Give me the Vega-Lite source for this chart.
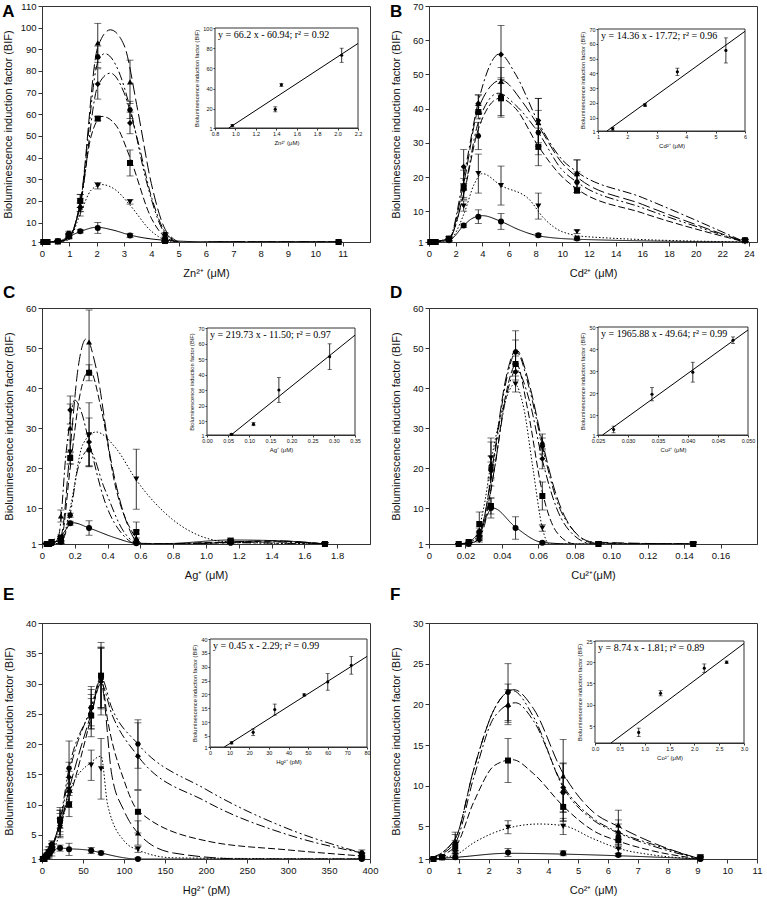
{
"$schema":"https://vega.github.io/schema/vega-lite/v6.json",
"background":"white",
"padding":{"left":1,"top":0,"right":2,"bottom":2},
"datasets":{
"pts":[
{"p":"A","s":1,"x":0.05,"y":1,"e":0.2},{"p":"A","s":1,"x":0.2,"y":1,"e":0.2},{"p":"A","s":1,"x":0.58,"y":1.3,"e":0.3},{"p":"A","s":1,"x":0.98,"y":3.5,"e":1},{"p":"A","s":1,"x":1.4,"y":6,"e":0.8},{"p":"A","s":1,"x":2.04,"y":7.5,"e":2.5},{"p":"A","s":1,"x":3.22,"y":4,"e":1},{"p":"A","s":1,"x":4.5,"y":2.5,"e":0.5},{"p":"A","s":1,"x":10.85,"y":1,"e":0.3},
{"p":"A","s":2,"x":0.05,"y":1,"e":0.2},{"p":"A","s":2,"x":0.2,"y":1,"e":0.2},{"p":"A","s":2,"x":0.58,"y":1.2,"e":0.3},{"p":"A","s":2,"x":0.98,"y":3,"e":0.5},{"p":"A","s":2,"x":1.4,"y":16,"e":3},{"p":"A","s":2,"x":2.04,"y":27,"e":1.5},{"p":"A","s":2,"x":3.22,"y":19.5,"e":1},{"p":"A","s":2,"x":4.5,"y":1.5,"e":0.3},{"p":"A","s":2,"x":10.85,"y":1,"e":0.3},
{"p":"A","s":3,"x":0.05,"y":1,"e":0.2},{"p":"A","s":3,"x":0.2,"y":1,"e":0.2},{"p":"A","s":3,"x":0.58,"y":1.3,"e":0.3},{"p":"A","s":3,"x":0.98,"y":4,"e":1},{"p":"A","s":3,"x":1.4,"y":20,"e":3},{"p":"A","s":3,"x":2.04,"y":58,"e":1},{"p":"A","s":3,"x":3.22,"y":37.5,"e":6},{"p":"A","s":3,"x":4.5,"y":1.5,"e":0.3},{"p":"A","s":3,"x":10.85,"y":1,"e":0.3},
{"p":"A","s":4,"x":0.05,"y":1,"e":0.2},{"p":"A","s":4,"x":0.2,"y":1,"e":0.2},{"p":"A","s":4,"x":0.58,"y":1.2,"e":0.3},{"p":"A","s":4,"x":0.98,"y":4,"e":1},{"p":"A","s":4,"x":1.4,"y":18,"e":3},{"p":"A","s":4,"x":2.04,"y":93,"e":9},{"p":"A","s":4,"x":3.22,"y":75,"e":10},{"p":"A","s":4,"x":4.5,"y":1.5,"e":0.3},{"p":"A","s":4,"x":10.85,"y":1,"e":0.3},
{"p":"A","s":5,"x":0.05,"y":1,"e":0.2},{"p":"A","s":5,"x":0.2,"y":1,"e":0.2},{"p":"A","s":5,"x":0.58,"y":1.2,"e":0.3},{"p":"A","s":5,"x":0.98,"y":3.5,"e":1},{"p":"A","s":5,"x":1.4,"y":17,"e":2},{"p":"A","s":5,"x":2.04,"y":74,"e":7},{"p":"A","s":5,"x":3.22,"y":56,"e":5},{"p":"A","s":5,"x":4.5,"y":1.5,"e":0.3},{"p":"A","s":5,"x":10.85,"y":1,"e":0.3},
{"p":"A","s":6,"x":0.05,"y":1,"e":0.2},{"p":"A","s":6,"x":0.2,"y":1,"e":0.2},{"p":"A","s":6,"x":0.58,"y":1.3,"e":0.3},{"p":"A","s":6,"x":0.98,"y":5,"e":1},{"p":"A","s":6,"x":1.4,"y":20,"e":3},{"p":"A","s":6,"x":2.04,"y":86.5,"e":5},{"p":"A","s":6,"x":3.22,"y":62,"e":4},{"p":"A","s":6,"x":4.5,"y":4.5,"e":0.8},{"p":"A","s":6,"x":10.85,"y":1,"e":0.3},
{"p":"B","s":1,"x":0.1,"y":1,"e":0.2},{"p":"B","s":1,"x":0.3,"y":1,"e":0.2},{"p":"B","s":1,"x":0.5,"y":1,"e":0.2},{"p":"B","s":1,"x":1.5,"y":1.5,"e":0.5},{"p":"B","s":1,"x":2.6,"y":5.8,"e":0.5},{"p":"B","s":1,"x":3.7,"y":8.4,"e":2},{"p":"B","s":1,"x":5.4,"y":7,"e":2.3},{"p":"B","s":1,"x":8.2,"y":3,"e":0.5},{"p":"B","s":1,"x":11.1,"y":2,"e":0.5},{"p":"B","s":1,"x":23.7,"y":1.5,"e":0.3},
{"p":"B","s":2,"x":0.1,"y":1,"e":0.2},{"p":"B","s":2,"x":0.3,"y":1,"e":0.2},{"p":"B","s":2,"x":0.5,"y":1,"e":0.2},{"p":"B","s":2,"x":1.5,"y":1.5,"e":0.5},{"p":"B","s":2,"x":2.6,"y":11.5,"e":1.5},{"p":"B","s":2,"x":3.7,"y":21,"e":5.7},{"p":"B","s":2,"x":5.4,"y":17.5,"e":5.7},{"p":"B","s":2,"x":8.2,"y":11.5,"e":3.8},{"p":"B","s":2,"x":11.1,"y":4,"e":0.5},{"p":"B","s":2,"x":23.7,"y":1,"e":0.3},
{"p":"B","s":3,"x":0.1,"y":1,"e":0.2},{"p":"B","s":3,"x":0.3,"y":1,"e":0.2},{"p":"B","s":3,"x":0.5,"y":1,"e":0.2},{"p":"B","s":3,"x":1.5,"y":2,"e":0.5},{"p":"B","s":3,"x":2.6,"y":17,"e":1},{"p":"B","s":3,"x":3.7,"y":39,"e":2},{"p":"B","s":3,"x":5.4,"y":43,"e":5.5},{"p":"B","s":3,"x":8.2,"y":28.8,"e":5.5},{"p":"B","s":3,"x":11.1,"y":16,"e":0.5},{"p":"B","s":3,"x":23.7,"y":1.5,"e":0.3},
{"p":"B","s":4,"x":0.1,"y":1,"e":0.2},{"p":"B","s":4,"x":0.3,"y":1,"e":0.2},{"p":"B","s":4,"x":0.5,"y":1,"e":0.2},{"p":"B","s":4,"x":1.5,"y":2,"e":0.5},{"p":"B","s":4,"x":2.6,"y":18,"e":4},{"p":"B","s":4,"x":3.7,"y":41.5,"e":2.5},{"p":"B","s":4,"x":5.4,"y":48,"e":4},{"p":"B","s":4,"x":8.2,"y":36,"e":7},{"p":"B","s":4,"x":11.1,"y":21,"e":4},{"p":"B","s":4,"x":23.7,"y":1.5,"e":0.3},
{"p":"B","s":5,"x":0.1,"y":1,"e":0.2},{"p":"B","s":5,"x":0.3,"y":1,"e":0.2},{"p":"B","s":5,"x":0.5,"y":1,"e":0.2},{"p":"B","s":5,"x":1.5,"y":2,"e":0.5},{"p":"B","s":5,"x":2.6,"y":23,"e":5},{"p":"B","s":5,"x":3.7,"y":41.5,"e":2.5},{"p":"B","s":5,"x":5.4,"y":55.8,"e":8.5},{"p":"B","s":5,"x":8.2,"y":36.5,"e":6.5},{"p":"B","s":5,"x":11.1,"y":21,"e":4},{"p":"B","s":5,"x":23.7,"y":1.5,"e":0.3},
{"p":"B","s":6,"x":0.1,"y":1,"e":0.2},{"p":"B","s":6,"x":0.3,"y":1,"e":0.2},{"p":"B","s":6,"x":0.5,"y":1,"e":0.2},{"p":"B","s":6,"x":1.5,"y":1.5,"e":0.5},{"p":"B","s":6,"x":2.6,"y":16.5,"e":3},{"p":"B","s":6,"x":3.7,"y":32,"e":4},{"p":"B","s":6,"x":5.4,"y":43.5,"e":5.5},{"p":"B","s":6,"x":8.2,"y":33,"e":6.5},{"p":"B","s":6,"x":11.1,"y":18.5,"e":3},{"p":"B","s":6,"x":23.7,"y":1.5,"e":0.3},
{"p":"C","s":1,"x":0.029,"y":1,"e":0.2},{"p":"C","s":1,"x":0.043,"y":1,"e":0.2},{"p":"C","s":1,"x":0.058,"y":1.2,"e":0.3},{"p":"C","s":1,"x":0.115,"y":1.5,"e":0.3},{"p":"C","s":1,"x":0.172,"y":6.2,"e":0.5},{"p":"C","s":1,"x":0.287,"y":5,"e":1.8},{"p":"C","s":1,"x":0.575,"y":1.2,"e":0.3},{"p":"C","s":1,"x":1.15,"y":1.5,"e":0.5},{"p":"C","s":1,"x":1.725,"y":1,"e":0.3},
{"p":"C","s":2,"x":0.029,"y":1,"e":0.2},{"p":"C","s":2,"x":0.043,"y":1,"e":0.2},{"p":"C","s":2,"x":0.058,"y":1.2,"e":0.3},{"p":"C","s":2,"x":0.115,"y":1.5,"e":0.3},{"p":"C","s":2,"x":0.172,"y":24,"e":3},{"p":"C","s":2,"x":0.287,"y":28.3,"e":8},{"p":"C","s":2,"x":0.575,"y":17.2,"e":7.5},{"p":"C","s":2,"x":1.15,"y":1.5,"e":0.5},{"p":"C","s":2,"x":1.725,"y":1,"e":0.3},
{"p":"C","s":3,"x":0.029,"y":1,"e":0.2},{"p":"C","s":3,"x":0.043,"y":1,"e":0.2},{"p":"C","s":3,"x":0.058,"y":1.5,"e":0.5},{"p":"C","s":3,"x":0.115,"y":2.5,"e":0.8},{"p":"C","s":3,"x":0.172,"y":22.5,"e":1.5},{"p":"C","s":3,"x":0.287,"y":43.8,"e":2},{"p":"C","s":3,"x":0.575,"y":4,"e":2.5},{"p":"C","s":3,"x":1.15,"y":1.8,"e":0.7},{"p":"C","s":3,"x":1.725,"y":1,"e":0.3},
{"p":"C","s":4,"x":0.029,"y":1,"e":0.2},{"p":"C","s":4,"x":0.043,"y":1,"e":0.2},{"p":"C","s":4,"x":0.058,"y":1.2,"e":0.3},{"p":"C","s":4,"x":0.115,"y":8,"e":1.5},{"p":"C","s":4,"x":0.172,"y":30,"e":6},{"p":"C","s":4,"x":0.287,"y":51.5,"e":8},{"p":"C","s":4,"x":0.575,"y":2.5,"e":2},{"p":"C","s":4,"x":1.15,"y":1.5,"e":0.5},{"p":"C","s":4,"x":1.725,"y":1,"e":0.3},
{"p":"C","s":5,"x":0.029,"y":1,"e":0.2},{"p":"C","s":5,"x":0.043,"y":1,"e":0.2},{"p":"C","s":5,"x":0.058,"y":1.2,"e":0.3},{"p":"C","s":5,"x":0.115,"y":2,"e":0.8},{"p":"C","s":5,"x":0.172,"y":34.5,"e":3.5},{"p":"C","s":5,"x":0.287,"y":26.5,"e":6},{"p":"C","s":5,"x":0.575,"y":2,"e":1.5},{"p":"C","s":5,"x":1.15,"y":1.5,"e":0.5},{"p":"C","s":5,"x":1.725,"y":1,"e":0.3},
{"p":"C","s":6,"x":0.029,"y":1,"e":0.2},{"p":"C","s":6,"x":0.043,"y":1,"e":0.2},{"p":"C","s":6,"x":0.058,"y":1.2,"e":0.3},{"p":"C","s":6,"x":0.115,"y":1.5,"e":0.3},{"p":"C","s":6,"x":0.172,"y":8.2,"e":0.5},{"p":"C","s":6,"x":0.287,"y":24.5,"e":4},{"p":"C","s":6,"x":0.575,"y":1.5,"e":1},{"p":"C","s":6,"x":1.15,"y":1.2,"e":0.3},{"p":"C","s":6,"x":1.725,"y":1,"e":0.3},
{"p":"D","s":1,"x":0.0163,"y":1,"e":0.1},{"p":"D","s":1,"x":0.0218,"y":1.2,"e":0.5},{"p":"D","s":1,"x":0.0276,"y":4,"e":1},{"p":"D","s":1,"x":0.034,"y":10,"e":2.5},{"p":"D","s":1,"x":0.0475,"y":5,"e":2.8},{"p":"D","s":1,"x":0.0622,"y":1.3,"e":0.3},{"p":"D","s":1,"x":0.093,"y":1,"e":0.3},{"p":"D","s":1,"x":0.145,"y":1,"e":0.5},
{"p":"D","s":2,"x":0.0163,"y":1,"e":0.1},{"p":"D","s":2,"x":0.0218,"y":1,"e":0.2},{"p":"D","s":2,"x":0.0276,"y":2.5,"e":0.5},{"p":"D","s":2,"x":0.034,"y":22.5,"e":5},{"p":"D","s":2,"x":0.0475,"y":41,"e":2},{"p":"D","s":2,"x":0.0622,"y":5,"e":0.8},{"p":"D","s":2,"x":0.093,"y":1,"e":0.3},{"p":"D","s":2,"x":0.145,"y":1,"e":0.3},
{"p":"D","s":3,"x":0.0163,"y":1,"e":0.1},{"p":"D","s":3,"x":0.0218,"y":1.5,"e":0.5},{"p":"D","s":3,"x":0.0276,"y":6,"e":3},{"p":"D","s":3,"x":0.034,"y":10.5,"e":2},{"p":"D","s":3,"x":0.0475,"y":46,"e":2},{"p":"D","s":3,"x":0.0622,"y":13,"e":3.5},{"p":"D","s":3,"x":0.093,"y":1,"e":0.5},{"p":"D","s":3,"x":0.145,"y":1,"e":0.5},
{"p":"D","s":4,"x":0.0163,"y":1,"e":0.1},{"p":"D","s":4,"x":0.0218,"y":1,"e":0.3},{"p":"D","s":4,"x":0.0276,"y":3,"e":0.5},{"p":"D","s":4,"x":0.034,"y":21,"e":5.5},{"p":"D","s":4,"x":0.0475,"y":49.3,"e":5},{"p":"D","s":4,"x":0.0622,"y":26.5,"e":2},{"p":"D","s":4,"x":0.093,"y":1,"e":0.5},{"p":"D","s":4,"x":0.145,"y":1,"e":0.3},
{"p":"D","s":5,"x":0.0163,"y":1,"e":0.1},{"p":"D","s":5,"x":0.0218,"y":1,"e":0.3},{"p":"D","s":5,"x":0.0276,"y":2,"e":0.5},{"p":"D","s":5,"x":0.034,"y":20,"e":3},{"p":"D","s":5,"x":0.0475,"y":44,"e":2},{"p":"D","s":5,"x":0.0622,"y":22.3,"e":2.5},{"p":"D","s":5,"x":0.093,"y":1,"e":0.3},{"p":"D","s":5,"x":0.145,"y":1,"e":0.3},
{"p":"D","s":6,"x":0.0163,"y":1,"e":0.1},{"p":"D","s":6,"x":0.0218,"y":1,"e":0.3},{"p":"D","s":6,"x":0.0276,"y":3,"e":1},{"p":"D","s":6,"x":0.034,"y":19.5,"e":2},{"p":"D","s":6,"x":0.0475,"y":49,"e":3},{"p":"D","s":6,"x":0.0622,"y":25.5,"e":2},{"p":"D","s":6,"x":0.093,"y":1,"e":0.5},{"p":"D","s":6,"x":0.145,"y":1,"e":0.5},
{"p":"E","s":1,"x":1,"y":1,"e":0.2},{"p":"E","s":1,"x":3,"y":1.2,"e":0.3},{"p":"E","s":1,"x":6,"y":1.5,"e":0.5},{"p":"E","s":1,"x":8.5,"y":2,"e":1},{"p":"E","s":1,"x":12,"y":2.5,"e":0.5},{"p":"E","s":1,"x":22,"y":2.8,"e":0.5},{"p":"E","s":1,"x":33,"y":2.6,"e":1},{"p":"E","s":1,"x":60,"y":2.4,"e":0.5},{"p":"E","s":1,"x":72,"y":2,"e":0.3},{"p":"E","s":1,"x":117,"y":1,"e":0.2},{"p":"E","s":1,"x":390,"y":1,"e":0.2},
{"p":"E","s":2,"x":1,"y":1,"e":0.2},{"p":"E","s":2,"x":3,"y":1,"e":0.2},{"p":"E","s":2,"x":6,"y":1.2,"e":0.3},{"p":"E","s":2,"x":8.5,"y":1.5,"e":0.3},{"p":"E","s":2,"x":12,"y":2,"e":0.5},{"p":"E","s":2,"x":22,"y":6.2,"e":1.5},{"p":"E","s":2,"x":33,"y":12.5,"e":2},{"p":"E","s":2,"x":60,"y":16.5,"e":2.5},{"p":"E","s":2,"x":72,"y":15.9,"e":5},{"p":"E","s":2,"x":117,"y":2.6,"e":0.5},{"p":"E","s":2,"x":390,"y":1,"e":0.3},
{"p":"E","s":3,"x":1,"y":1,"e":0.2},{"p":"E","s":3,"x":3,"y":1,"e":0.2},{"p":"E","s":3,"x":6,"y":1.5,"e":0.3},{"p":"E","s":3,"x":8.5,"y":2,"e":0.5},{"p":"E","s":3,"x":12,"y":3,"e":0.5},{"p":"E","s":3,"x":22,"y":7.5,"e":2},{"p":"E","s":3,"x":33,"y":10,"e":2},{"p":"E","s":3,"x":60,"y":24.7,"e":3.5},{"p":"E","s":3,"x":72,"y":31.3,"e":5.5},{"p":"E","s":3,"x":117,"y":8.8,"e":3.5},{"p":"E","s":3,"x":390,"y":1.5,"e":0.5},
{"p":"E","s":4,"x":1,"y":1,"e":0.2},{"p":"E","s":4,"x":3,"y":1,"e":0.2},{"p":"E","s":4,"x":6,"y":1.5,"e":0.3},{"p":"E","s":4,"x":8.5,"y":2,"e":0.5},{"p":"E","s":4,"x":12,"y":3,"e":0.5},{"p":"E","s":4,"x":22,"y":6.5,"e":2},{"p":"E","s":4,"x":33,"y":12.5,"e":3},{"p":"E","s":4,"x":60,"y":25,"e":2.5},{"p":"E","s":4,"x":72,"y":31,"e":5},{"p":"E","s":4,"x":117,"y":5.3,"e":2},{"p":"E","s":4,"x":390,"y":1.2,"e":0.3},
{"p":"E","s":5,"x":1,"y":1,"e":0.2},{"p":"E","s":5,"x":3,"y":1.5,"e":0.3},{"p":"E","s":5,"x":6,"y":2,"e":0.5},{"p":"E","s":5,"x":8.5,"y":2.5,"e":0.5},{"p":"E","s":5,"x":12,"y":3,"e":0.5},{"p":"E","s":5,"x":22,"y":7.6,"e":1.5},{"p":"E","s":5,"x":33,"y":14.5,"e":2.5},{"p":"E","s":5,"x":60,"y":26,"e":3},{"p":"E","s":5,"x":72,"y":30.3,"e":5.5},{"p":"E","s":5,"x":117,"y":18,"e":5.5},{"p":"E","s":5,"x":390,"y":1.5,"e":0.5},
{"p":"E","s":6,"x":1,"y":1,"e":0.2},{"p":"E","s":6,"x":3,"y":1.2,"e":0.3},{"p":"E","s":6,"x":6,"y":1.5,"e":0.3},{"p":"E","s":6,"x":8.5,"y":2,"e":0.5},{"p":"E","s":6,"x":12,"y":3.5,"e":0.5},{"p":"E","s":6,"x":22,"y":7,"e":2},{"p":"E","s":6,"x":33,"y":16,"e":4.5},{"p":"E","s":6,"x":60,"y":26,"e":3.5},{"p":"E","s":6,"x":72,"y":31,"e":5},{"p":"E","s":6,"x":117,"y":20,"e":4},{"p":"E","s":6,"x":390,"y":2,"e":0.5},
{"p":"F","s":1,"x":0.15,"y":1,"e":0.1},{"p":"F","s":1,"x":0.44,"y":1.2,"e":0.2},{"p":"F","s":1,"x":0.88,"y":1.2,"e":0.3},{"p":"F","s":1,"x":2.65,"y":1.8,"e":0.5},{"p":"F","s":1,"x":4.5,"y":1.7,"e":0.3},{"p":"F","s":1,"x":6.35,"y":1.5,"e":0.2},{"p":"F","s":1,"x":9.1,"y":1,"e":0.2},
{"p":"F","s":2,"x":0.15,"y":1,"e":0.1},{"p":"F","s":2,"x":0.44,"y":1.2,"e":0.2},{"p":"F","s":2,"x":0.88,"y":1.5,"e":0.5},{"p":"F","s":2,"x":2.65,"y":4.9,"e":0.8},{"p":"F","s":2,"x":4.5,"y":5,"e":1},{"p":"F","s":2,"x":6.35,"y":2.2,"e":0.5},{"p":"F","s":2,"x":9.1,"y":1,"e":0.2},
{"p":"F","s":3,"x":0.15,"y":1,"e":0.1},{"p":"F","s":3,"x":0.44,"y":1.2,"e":0.2},{"p":"F","s":3,"x":0.88,"y":2.5,"e":0.8},{"p":"F","s":3,"x":2.65,"y":13.1,"e":2.7},{"p":"F","s":3,"x":4.5,"y":7.4,"e":1.8},{"p":"F","s":3,"x":6.35,"y":3.3,"e":0.8},{"p":"F","s":3,"x":9.1,"y":1.2,"e":0.3},
{"p":"F","s":4,"x":0.15,"y":1,"e":0.1},{"p":"F","s":4,"x":0.44,"y":1.2,"e":0.2},{"p":"F","s":4,"x":0.88,"y":3,"e":1.3},{"p":"F","s":4,"x":2.65,"y":20,"e":2.5},{"p":"F","s":4,"x":4.5,"y":11.2,"e":4.5},{"p":"F","s":4,"x":6.35,"y":5.2,"e":1.8},{"p":"F","s":4,"x":9.1,"y":1.2,"e":0.3},
{"p":"F","s":5,"x":0.15,"y":1,"e":0.1},{"p":"F","s":5,"x":0.44,"y":1.2,"e":0.2},{"p":"F","s":5,"x":0.88,"y":2,"e":1},{"p":"F","s":5,"x":2.65,"y":19.8,"e":2},{"p":"F","s":5,"x":4.5,"y":9.8,"e":3},{"p":"F","s":5,"x":6.35,"y":4.3,"e":1.5},{"p":"F","s":5,"x":9.1,"y":1,"e":0.3},
{"p":"F","s":6,"x":0.15,"y":1,"e":0.1},{"p":"F","s":6,"x":0.44,"y":1.2,"e":0.2},{"p":"F","s":6,"x":0.88,"y":3,"e":1},{"p":"F","s":6,"x":2.65,"y":21.5,"e":3.5},{"p":"F","s":6,"x":4.5,"y":9.2,"e":3.5},{"p":"F","s":6,"x":6.35,"y":3.8,"e":1.5},{"p":"F","s":6,"x":9.1,"y":1,"e":0.3}
],
"crv":[
{"p":"A","s":1,"x":0,"y":1},{"p":"A","s":1,"x":0.58,"y":1.3},{"p":"A","s":1,"x":0.98,"y":3.5},{"p":"A","s":1,"x":1.4,"y":5.8},{"p":"A","s":1,"x":2,"y":7.8},{"p":"A","s":1,"x":2.6,"y":6.5},{"p":"A","s":1,"x":3.22,"y":4.2},{"p":"A","s":1,"x":4.5,"y":1.8},{"p":"A","s":1,"x":6,"y":1.1},{"p":"A","s":1,"x":10.85,"y":1},
{"p":"A","s":2,"x":0,"y":1},{"p":"A","s":2,"x":0.58,"y":1.1},{"p":"A","s":2,"x":0.98,"y":2},{"p":"A","s":2,"x":1.4,"y":14},{"p":"A","s":2,"x":1.8,"y":25},{"p":"A","s":2,"x":2.2,"y":27.5},{"p":"A","s":2,"x":2.7,"y":25},{"p":"A","s":2,"x":3.22,"y":18},{"p":"A","s":2,"x":4,"y":6},{"p":"A","s":2,"x":4.8,"y":1},{"p":"A","s":2,"x":6,"y":0.8},{"p":"A","s":2,"x":10.85,"y":1},
{"p":"A","s":3,"x":0,"y":1},{"p":"A","s":3,"x":0.58,"y":1.1},{"p":"A","s":3,"x":0.98,"y":3},{"p":"A","s":3,"x":1.4,"y":19},{"p":"A","s":3,"x":1.8,"y":50},{"p":"A","s":3,"x":2.2,"y":59},{"p":"A","s":3,"x":2.7,"y":55},{"p":"A","s":3,"x":3.22,"y":40},{"p":"A","s":3,"x":4,"y":12},{"p":"A","s":3,"x":4.6,"y":2.5},{"p":"A","s":3,"x":5.2,"y":0.5},{"p":"A","s":3,"x":6.5,"y":1},{"p":"A","s":3,"x":10.85,"y":1},
{"p":"A","s":4,"x":0,"y":1},{"p":"A","s":4,"x":0.58,"y":1.1},{"p":"A","s":4,"x":0.98,"y":3},{"p":"A","s":4,"x":1.4,"y":19},{"p":"A","s":4,"x":2.04,"y":91},{"p":"A","s":4,"x":2.5,"y":99},{"p":"A","s":4,"x":3,"y":92},{"p":"A","s":4,"x":3.5,"y":62},{"p":"A","s":4,"x":4,"y":28},{"p":"A","s":4,"x":4.6,"y":5},{"p":"A","s":4,"x":5.2,"y":0.5},{"p":"A","s":4,"x":6.5,"y":1},{"p":"A","s":4,"x":10.85,"y":1},
{"p":"A","s":5,"x":0,"y":1},{"p":"A","s":5,"x":0.58,"y":1.1},{"p":"A","s":5,"x":0.98,"y":3},{"p":"A","s":5,"x":1.4,"y":18},{"p":"A","s":5,"x":2.04,"y":73},{"p":"A","s":5,"x":2.5,"y":79},{"p":"A","s":5,"x":3,"y":70},{"p":"A","s":5,"x":3.5,"y":48},{"p":"A","s":5,"x":4,"y":22},{"p":"A","s":5,"x":4.6,"y":4},{"p":"A","s":5,"x":5.2,"y":0.5},{"p":"A","s":5,"x":6.5,"y":1},{"p":"A","s":5,"x":10.85,"y":1},
{"p":"A","s":6,"x":0,"y":1},{"p":"A","s":6,"x":0.58,"y":1.1},{"p":"A","s":6,"x":0.98,"y":3},{"p":"A","s":6,"x":1.4,"y":19},{"p":"A","s":6,"x":2.04,"y":84},{"p":"A","s":6,"x":2.3,"y":88},{"p":"A","s":6,"x":2.8,"y":80},{"p":"A","s":6,"x":3.22,"y":63},{"p":"A","s":6,"x":3.8,"y":30},{"p":"A","s":6,"x":4.5,"y":5},{"p":"A","s":6,"x":5.1,"y":0.5},{"p":"A","s":6,"x":6.5,"y":1},{"p":"A","s":6,"x":10.85,"y":1},
{"p":"B","s":1,"x":0,"y":1},{"p":"B","s":1,"x":1.5,"y":1.5},{"p":"B","s":1,"x":2.6,"y":5.8},{"p":"B","s":1,"x":3.2,"y":7.8},{"p":"B","s":1,"x":4,"y":8.7},{"p":"B","s":1,"x":5.4,"y":7},{"p":"B","s":1,"x":6.8,"y":4.5},{"p":"B","s":1,"x":8.2,"y":2.8},{"p":"B","s":1,"x":11.1,"y":1.8},{"p":"B","s":1,"x":23.7,"y":1},
{"p":"B","s":2,"x":0,"y":1},{"p":"B","s":2,"x":1.5,"y":1.5},{"p":"B","s":2,"x":2.6,"y":9},{"p":"B","s":2,"x":3.4,"y":18},{"p":"B","s":2,"x":4,"y":21},{"p":"B","s":2,"x":5.4,"y":17.5},{"p":"B","s":2,"x":7.5,"y":13.5},{"p":"B","s":2,"x":8.6,"y":8},{"p":"B","s":2,"x":10,"y":4},{"p":"B","s":2,"x":12,"y":2.5},{"p":"B","s":2,"x":23.7,"y":1},
{"p":"B","s":3,"x":0,"y":1},{"p":"B","s":3,"x":1.5,"y":2},{"p":"B","s":3,"x":2.6,"y":15},{"p":"B","s":3,"x":3.7,"y":34},{"p":"B","s":3,"x":5.3,"y":43},{"p":"B","s":3,"x":6.5,"y":40},{"p":"B","s":3,"x":8.2,"y":29},{"p":"B","s":3,"x":10,"y":20},{"p":"B","s":3,"x":11.1,"y":16.5},{"p":"B","s":3,"x":16,"y":9.5},{"p":"B","s":3,"x":23.7,"y":1},
{"p":"B","s":4,"x":0,"y":1},{"p":"B","s":4,"x":1.5,"y":2},{"p":"B","s":4,"x":2.6,"y":18},{"p":"B","s":4,"x":3.7,"y":40},{"p":"B","s":4,"x":5.4,"y":48.3},{"p":"B","s":4,"x":7,"y":42},{"p":"B","s":4,"x":8.2,"y":35},{"p":"B","s":4,"x":10,"y":24},{"p":"B","s":4,"x":11.1,"y":20},{"p":"B","s":4,"x":16,"y":12},{"p":"B","s":4,"x":23.7,"y":1},
{"p":"B","s":5,"x":0,"y":1},{"p":"B","s":5,"x":1.5,"y":2},{"p":"B","s":5,"x":2.6,"y":20},{"p":"B","s":5,"x":3.7,"y":42},{"p":"B","s":5,"x":5.3,"y":56},{"p":"B","s":5,"x":6.5,"y":50},{"p":"B","s":5,"x":8.2,"y":36},{"p":"B","s":5,"x":10,"y":25},{"p":"B","s":5,"x":11.1,"y":21.5},{"p":"B","s":5,"x":16,"y":14},{"p":"B","s":5,"x":23.7,"y":1},
{"p":"B","s":6,"x":0,"y":1},{"p":"B","s":6,"x":1.5,"y":2},{"p":"B","s":6,"x":2.6,"y":15},{"p":"B","s":6,"x":3.7,"y":36},{"p":"B","s":6,"x":5.2,"y":44.5},{"p":"B","s":6,"x":6.5,"y":41},{"p":"B","s":6,"x":8.2,"y":33},{"p":"B","s":6,"x":10,"y":22},{"p":"B","s":6,"x":11.1,"y":18.5},{"p":"B","s":6,"x":16,"y":11},{"p":"B","s":6,"x":23.7,"y":1},
{"p":"C","s":1,"x":0,"y":1},{"p":"C","s":1,"x":0.058,"y":1.1},{"p":"C","s":1,"x":0.115,"y":3},{"p":"C","s":1,"x":0.19,"y":6.3},{"p":"C","s":1,"x":0.287,"y":5},{"p":"C","s":1,"x":0.45,"y":2.5},{"p":"C","s":1,"x":0.575,"y":1.2},{"p":"C","s":1,"x":0.75,"y":1.1},{"p":"C","s":1,"x":1.15,"y":2},{"p":"C","s":1,"x":1.45,"y":1.8},{"p":"C","s":1,"x":1.73,"y":1},
{"p":"C","s":2,"x":0,"y":1},{"p":"C","s":2,"x":0.115,"y":1.2},{"p":"C","s":2,"x":0.172,"y":10},{"p":"C","s":2,"x":0.25,"y":26},{"p":"C","s":2,"x":0.33,"y":29},{"p":"C","s":2,"x":0.45,"y":25},{"p":"C","s":2,"x":0.575,"y":17},{"p":"C","s":2,"x":0.8,"y":7},{"p":"C","s":2,"x":1,"y":2.5},{"p":"C","s":2,"x":1.15,"y":1.5},{"p":"C","s":2,"x":1.73,"y":1},
{"p":"C","s":3,"x":0,"y":1},{"p":"C","s":3,"x":0.115,"y":2},{"p":"C","s":3,"x":0.172,"y":20},{"p":"C","s":3,"x":0.23,"y":38},{"p":"C","s":3,"x":0.29,"y":44.5},{"p":"C","s":3,"x":0.36,"y":35},{"p":"C","s":3,"x":0.45,"y":15},{"p":"C","s":3,"x":0.55,"y":4},{"p":"C","s":3,"x":0.62,"y":1},{"p":"C","s":3,"x":1.15,"y":1.5},{"p":"C","s":3,"x":1.4,"y":1.7},{"p":"C","s":3,"x":1.73,"y":1},
{"p":"C","s":4,"x":0,"y":1},{"p":"C","s":4,"x":0.115,"y":3},{"p":"C","s":4,"x":0.172,"y":25},{"p":"C","s":4,"x":0.22,"y":45},{"p":"C","s":4,"x":0.27,"y":52.3},{"p":"C","s":4,"x":0.33,"y":45},{"p":"C","s":4,"x":0.42,"y":22},{"p":"C","s":4,"x":0.52,"y":6},{"p":"C","s":4,"x":0.6,"y":1},{"p":"C","s":4,"x":0.8,"y":0.8},{"p":"C","s":4,"x":1.15,"y":1.5},{"p":"C","s":4,"x":1.4,"y":1.8},{"p":"C","s":4,"x":1.73,"y":1},
{"p":"C","s":5,"x":0,"y":1},{"p":"C","s":5,"x":0.1,"y":3},{"p":"C","s":5,"x":0.15,"y":25},{"p":"C","s":5,"x":0.2,"y":37},{"p":"C","s":5,"x":0.24,"y":34},{"p":"C","s":5,"x":0.287,"y":26.5},{"p":"C","s":5,"x":0.38,"y":12},{"p":"C","s":5,"x":0.5,"y":3},{"p":"C","s":5,"x":0.58,"y":1},{"p":"C","s":5,"x":1.15,"y":1.3},{"p":"C","s":5,"x":1.4,"y":1.5},{"p":"C","s":5,"x":1.73,"y":1},
{"p":"C","s":6,"x":0,"y":1},{"p":"C","s":6,"x":0.115,"y":1.5},{"p":"C","s":6,"x":0.172,"y":8.5},{"p":"C","s":6,"x":0.22,"y":20},{"p":"C","s":6,"x":0.287,"y":24.5},{"p":"C","s":6,"x":0.38,"y":15},{"p":"C","s":6,"x":0.5,"y":4},{"p":"C","s":6,"x":0.6,"y":1},{"p":"C","s":6,"x":1.15,"y":1.3},{"p":"C","s":6,"x":1.73,"y":1},
{"p":"D","s":1,"x":0.0163,"y":1},{"p":"D","s":1,"x":0.0218,"y":1.5},{"p":"D","s":1,"x":0.0276,"y":4},{"p":"D","s":1,"x":0.035,"y":10},{"p":"D","s":1,"x":0.0475,"y":5.2},{"p":"D","s":1,"x":0.0622,"y":1.4},{"p":"D","s":1,"x":0.08,"y":1},{"p":"D","s":1,"x":0.145,"y":1},
{"p":"D","s":2,"x":0.0163,"y":1},{"p":"D","s":2,"x":0.025,"y":2},{"p":"D","s":2,"x":0.03,"y":10},{"p":"D","s":2,"x":0.035,"y":24},{"p":"D","s":2,"x":0.042,"y":37},{"p":"D","s":2,"x":0.047,"y":41},{"p":"D","s":2,"x":0.052,"y":35},{"p":"D","s":2,"x":0.057,"y":20},{"p":"D","s":2,"x":0.0622,"y":5},{"p":"D","s":2,"x":0.066,"y":1},{"p":"D","s":2,"x":0.093,"y":1},{"p":"D","s":2,"x":0.145,"y":1},
{"p":"D","s":3,"x":0.0163,"y":1},{"p":"D","s":3,"x":0.025,"y":1.5},{"p":"D","s":3,"x":0.03,"y":6},{"p":"D","s":3,"x":0.036,"y":20},{"p":"D","s":3,"x":0.042,"y":38},{"p":"D","s":3,"x":0.048,"y":46},{"p":"D","s":3,"x":0.054,"y":35},{"p":"D","s":3,"x":0.0622,"y":14},{"p":"D","s":3,"x":0.07,"y":4},{"p":"D","s":3,"x":0.08,"y":1},{"p":"D","s":3,"x":0.093,"y":0.8},{"p":"D","s":3,"x":0.145,"y":1},
{"p":"D","s":4,"x":0.0163,"y":1},{"p":"D","s":4,"x":0.025,"y":1.5},{"p":"D","s":4,"x":0.03,"y":7},{"p":"D","s":4,"x":0.036,"y":24},{"p":"D","s":4,"x":0.042,"y":42},{"p":"D","s":4,"x":0.048,"y":49.5},{"p":"D","s":4,"x":0.055,"y":41},{"p":"D","s":4,"x":0.0622,"y":26.5},{"p":"D","s":4,"x":0.07,"y":13},{"p":"D","s":4,"x":0.08,"y":4},{"p":"D","s":4,"x":0.09,"y":1.5},{"p":"D","s":4,"x":0.145,"y":1},
{"p":"D","s":5,"x":0.0163,"y":1},{"p":"D","s":5,"x":0.025,"y":1.5},{"p":"D","s":5,"x":0.03,"y":5},{"p":"D","s":5,"x":0.036,"y":20},{"p":"D","s":5,"x":0.042,"y":37},{"p":"D","s":5,"x":0.048,"y":44.5},{"p":"D","s":5,"x":0.055,"y":37},{"p":"D","s":5,"x":0.0622,"y":22},{"p":"D","s":5,"x":0.07,"y":10},{"p":"D","s":5,"x":0.08,"y":3},{"p":"D","s":5,"x":0.09,"y":1},{"p":"D","s":5,"x":0.145,"y":1},
{"p":"D","s":6,"x":0.0163,"y":1},{"p":"D","s":6,"x":0.025,"y":1.5},{"p":"D","s":6,"x":0.03,"y":7},{"p":"D","s":6,"x":0.036,"y":23},{"p":"D","s":6,"x":0.042,"y":41},{"p":"D","s":6,"x":0.048,"y":49},{"p":"D","s":6,"x":0.055,"y":40},{"p":"D","s":6,"x":0.0622,"y":25.5},{"p":"D","s":6,"x":0.07,"y":12},{"p":"D","s":6,"x":0.08,"y":4},{"p":"D","s":6,"x":0.09,"y":1.3},{"p":"D","s":6,"x":0.145,"y":1},
{"p":"E","s":1,"x":0,"y":1},{"p":"E","s":1,"x":3,"y":1.5},{"p":"E","s":1,"x":8.5,"y":2},{"p":"E","s":1,"x":22,"y":2.8},{"p":"E","s":1,"x":33,"y":2.7},{"p":"E","s":1,"x":60,"y":2.4},{"p":"E","s":1,"x":72,"y":2},{"p":"E","s":1,"x":117,"y":1},{"p":"E","s":1,"x":390,"y":1},
{"p":"E","s":2,"x":0,"y":1},{"p":"E","s":2,"x":12,"y":2},{"p":"E","s":2,"x":22,"y":5.5},{"p":"E","s":2,"x":33,"y":12},{"p":"E","s":2,"x":60,"y":17},{"p":"E","s":2,"x":72,"y":18},{"p":"E","s":2,"x":80,"y":10},{"p":"E","s":2,"x":100,"y":4},{"p":"E","s":2,"x":117,"y":2.5},{"p":"E","s":2,"x":160,"y":1.2},{"p":"E","s":2,"x":390,"y":1},
{"p":"E","s":3,"x":0,"y":1},{"p":"E","s":3,"x":12,"y":3},{"p":"E","s":3,"x":22,"y":7},{"p":"E","s":3,"x":33,"y":11},{"p":"E","s":3,"x":60,"y":24.5},{"p":"E","s":3,"x":72,"y":31},{"p":"E","s":3,"x":80,"y":24},{"p":"E","s":3,"x":100,"y":14},{"p":"E","s":3,"x":117,"y":9},{"p":"E","s":3,"x":200,"y":4},{"p":"E","s":3,"x":300,"y":2.5},{"p":"E","s":3,"x":390,"y":1.5},
{"p":"E","s":4,"x":0,"y":1},{"p":"E","s":4,"x":12,"y":3},{"p":"E","s":4,"x":22,"y":6.5},{"p":"E","s":4,"x":33,"y":12.5},{"p":"E","s":4,"x":60,"y":25},{"p":"E","s":4,"x":72,"y":30},{"p":"E","s":4,"x":85,"y":15},{"p":"E","s":4,"x":100,"y":9},{"p":"E","s":4,"x":117,"y":5.3},{"p":"E","s":4,"x":160,"y":2},{"p":"E","s":4,"x":250,"y":1},{"p":"E","s":4,"x":390,"y":1},
{"p":"E","s":5,"x":0,"y":1},{"p":"E","s":5,"x":12,"y":3},{"p":"E","s":5,"x":22,"y":7},{"p":"E","s":5,"x":33,"y":15},{"p":"E","s":5,"x":60,"y":26},{"p":"E","s":5,"x":72,"y":30},{"p":"E","s":5,"x":85,"y":25},{"p":"E","s":5,"x":117,"y":18},{"p":"E","s":5,"x":200,"y":10.5},{"p":"E","s":5,"x":300,"y":5},{"p":"E","s":5,"x":390,"y":2},
{"p":"E","s":6,"x":0,"y":1},{"p":"E","s":6,"x":12,"y":3},{"p":"E","s":6,"x":22,"y":7.5},{"p":"E","s":6,"x":33,"y":16},{"p":"E","s":6,"x":60,"y":26},{"p":"E","s":6,"x":72,"y":31},{"p":"E","s":6,"x":85,"y":26},{"p":"E","s":6,"x":117,"y":20},{"p":"E","s":6,"x":200,"y":12.5},{"p":"E","s":6,"x":300,"y":6},{"p":"E","s":6,"x":390,"y":2},
{"p":"F","s":1,"x":0,"y":1},{"p":"F","s":1,"x":0.88,"y":1.2},{"p":"F","s":1,"x":2.65,"y":1.7},{"p":"F","s":1,"x":4.5,"y":1.6},{"p":"F","s":1,"x":6.35,"y":1.4},{"p":"F","s":1,"x":9.1,"y":1},
{"p":"F","s":2,"x":0,"y":1},{"p":"F","s":2,"x":0.88,"y":1.5},{"p":"F","s":2,"x":1.5,"y":3},{"p":"F","s":2,"x":2.65,"y":4.8},{"p":"F","s":2,"x":3.7,"y":5.3},{"p":"F","s":2,"x":4.5,"y":5.1},{"p":"F","s":2,"x":5.5,"y":3.5},{"p":"F","s":2,"x":6.35,"y":2.3},{"p":"F","s":2,"x":7.5,"y":1.5},{"p":"F","s":2,"x":9.1,"y":1},
{"p":"F","s":3,"x":0,"y":1},{"p":"F","s":3,"x":0.88,"y":2.5},{"p":"F","s":3,"x":1.5,"y":8},{"p":"F","s":3,"x":2.2,"y":12.5},{"p":"F","s":3,"x":2.8,"y":13.2},{"p":"F","s":3,"x":3.5,"y":11.5},{"p":"F","s":3,"x":4.5,"y":7.5},{"p":"F","s":3,"x":5.5,"y":4.5},{"p":"F","s":3,"x":6.35,"y":3.2},{"p":"F","s":3,"x":7.5,"y":2},{"p":"F","s":3,"x":9.1,"y":1},
{"p":"F","s":4,"x":0,"y":1},{"p":"F","s":4,"x":0.88,"y":3.5},{"p":"F","s":4,"x":1.5,"y":12},{"p":"F","s":4,"x":2.2,"y":19.5},{"p":"F","s":4,"x":2.85,"y":21.8},{"p":"F","s":4,"x":3.5,"y":19.5},{"p":"F","s":4,"x":4.5,"y":11.5},{"p":"F","s":4,"x":5.5,"y":6.8},{"p":"F","s":4,"x":6.35,"y":5},{"p":"F","s":4,"x":7.5,"y":3},{"p":"F","s":4,"x":9.1,"y":1},
{"p":"F","s":5,"x":0,"y":1},{"p":"F","s":5,"x":0.88,"y":3},{"p":"F","s":5,"x":1.5,"y":11},{"p":"F","s":5,"x":2.2,"y":18.5},{"p":"F","s":5,"x":2.9,"y":20.2},{"p":"F","s":5,"x":3.5,"y":18},{"p":"F","s":5,"x":4.5,"y":10},{"p":"F","s":5,"x":5.5,"y":6},{"p":"F","s":5,"x":6.35,"y":4.3},{"p":"F","s":5,"x":7.5,"y":2.8},{"p":"F","s":5,"x":9.1,"y":1},
{"p":"F","s":6,"x":0,"y":1},{"p":"F","s":6,"x":0.88,"y":3.5},{"p":"F","s":6,"x":1.5,"y":12},{"p":"F","s":6,"x":2.2,"y":19.5},{"p":"F","s":6,"x":2.8,"y":21.7},{"p":"F","s":6,"x":3.5,"y":18.5},{"p":"F","s":6,"x":4.5,"y":9.8},{"p":"F","s":6,"x":5.5,"y":5.8},{"p":"F","s":6,"x":6.35,"y":4.2},{"p":"F","s":6,"x":7.5,"y":2.6},{"p":"F","s":6,"x":9.1,"y":1}
],
"ins":[
{"p":"A","x":0.97,"y":3.5,"e":1},{"p":"A","x":1.39,"y":19.5,"e":2.5},{"p":"A","x":1.45,"y":43.7,"e":1.5},{"p":"A","x":2.04,"y":73,"e":7},
{"p":"B","x":1.5,"y":2.5,"e":1},{"p":"B","x":2.6,"y":18.5,"e":1},{"p":"B","x":3.7,"y":41,"e":2.5},{"p":"B","x":5.35,"y":55.5,"e":8.5},
{"p":"C","x":0.058,"y":1.5,"e":0.5},{"p":"C","x":0.11,"y":8,"e":1},{"p":"C","x":0.17,"y":30,"e":8},{"p":"C","x":0.29,"y":51.5,"e":8.3},
{"p":"D","x":0.0276,"y":3.5,"e":1.5},{"p":"D","x":0.034,"y":19.5,"e":3},{"p":"D","x":0.0408,"y":29.5,"e":4.5},{"p":"D","x":0.0475,"y":44,"e":1.5},
{"p":"E","x":11,"y":2.5,"e":0.4},{"p":"E","x":22,"y":6.3,"e":1.2},{"p":"E","x":33,"y":14.5,"e":2},{"p":"E","x":48,"y":19.8,"e":0.4},{"p":"E","x":60,"y":24.5,"e":3},{"p":"E","x":72,"y":30.5,"e":3.2},
{"p":"F","x":0.88,"y":3.5,"e":1},{"p":"F","x":1.32,"y":12.7,"e":0.6},{"p":"F","x":2.2,"y":18.6,"e":1},{"p":"F","x":2.65,"y":20,"e":0.3}
],
"reg":[
{"p":"A","x":0.9357,"y":1},{"p":"A","x":2.2,"y":84.7},
{"p":"B","x":1.3036,"y":1},{"p":"B","x":6,"y":68.44},
{"p":"C","x":0.05689,"y":1},{"p":"C","x":0.35,"y":65.4},
{"p":"D","x":0.025759,"y":1},{"p":"D","x":0.05,"y":48.65},
{"p":"E","x":7.311,"y":1},{"p":"E","x":80,"y":33.71},
{"p":"F","x":0.3215,"y":1},{"p":"F","x":3,"y":24.41}
],
"eq":[
{"p":"A","t":"y = 66.2 x - 60.94; r² = 0.92"},
{"p":"B","t":"y = 14.36 x - 17.72; r² = 0.96"},
{"p":"C","t":"y = 219.73 x - 11.50; r² = 0.97"},
{"p":"D","t":"y = 1965.88 x - 49.64; r² = 0.99"},
{"p":"E","t":"y = 0.45 x - 2.29; r² = 0.99"},
{"p":"F","t":"y = 8.74 x - 1.81; r² = 0.89"}
]
},
"vconcat":[
{"hconcat":[
{"title":{"text":"A","offset":-20},"width":328,"height":236,
"resolve":{"scale":{"x":"independent","y":"independent"},"axis":{"x":"independent","y":"independent"}},
"layer":[
{"encoding":{"x":{"field":"x","type":"quantitative","scale":{"domain":[0,12],"nice":false,"zero":false},"axis":{"values":[0,1,2,3,4,5,6,7,8,9,10,11],"title":"Zn²⁺ (μM)"}},
"y":{"field":"y","type":"quantitative","scale":{"domain":[1,110],"nice":false,"zero":false},"axis":{"values":[1,10,20,30,40,50,60,70,80,90,100,110],"title":"Bioluminescence induction factor (BIF)","minExtent":21}}},
"layer":[
{"data":{"name":"crv"},"transform":[{"filter":"datum.p=='A'"}],"mark":{"type":"line","interpolate":"monotone","clip":true},"encoding":{"strokeDash":{"field":"s","type":"nominal","scale":{"domain":[1,2,3,4,5,6],"range":[[1,0],[1.5,2],[7,3],[12,4],[9,3,2,3],[9,3,2,3,2,3]]},"legend":null}}},
{"data":{"name":"pts"},"transform":[{"filter":"datum.p=='A'"}],"mark":{"type":"errorbar","ticks":true,"size":7,"thickness":0.8,"color":"black","clip":true},"encoding":{"yError":{"field":"e"}}},
{"data":{"name":"pts"},"transform":[{"filter":"datum.p=='A'"}],"mark":{"type":"point"},"encoding":{"shape":{"field":"s","type":"nominal","scale":{"domain":[1,2,3,4,5,6],"range":["circle","triangle-down","square","triangle-up","diamond","M-1,0L-0.5,-0.866L0.5,-0.866L1,0L0.5,0.866L-0.5,0.866Z"]},"legend":null}}}
]},
{"layer":[
{"data":{"values":[{}]},"mark":{"type":"rect","fill":"white","stroke":"#333","strokeWidth":1},"encoding":{
"x":{"datum":0.8,"type":"quantitative","scale":{"domain":[0.8,2.2],"range":[173,316],"nice":false,"zero":false},"axis":{"orient":"bottom","offset":-114,"values":[0.8,1,1.2,1.4,1.6,1.8,2,2.2],"format":".1f","title":"Zn²⁺ (μM)","labelFontSize":5.5,"titleFontSize":6,"tickSize":2,"labelPadding":1,"titlePadding":3,"minExtent":0}},"x2":{"datum":2.2},
"y":{"datum":1,"type":"quantitative","scale":{"domain":[1,100],"range":[122,22],"nice":false,"zero":false},"axis":{"orient":"left","offset":-173,"values":[1,20,40,60,80,100],"format":"d","title":"Bioluminescence induction factor (BIF)","labelFontSize":5.5,"titleFontSize":5.7,"tickSize":2,"labelPadding":1,"titlePadding":3,"minExtent":0}},"y2":{"datum":100}}},
{"data":{"name":"reg"},"transform":[{"filter":"datum.p=='A'"}],"mark":{"type":"line"},"encoding":{
"x":{"field":"x","type":"quantitative","scale":{"domain":[0.8,2.2],"range":[173,316],"nice":false,"zero":false},"axis":{"orient":"bottom","offset":-114,"values":[0.8,1,1.2,1.4,1.6,1.8,2,2.2],"format":".1f","title":"Zn²⁺ (μM)","labelFontSize":5.5,"titleFontSize":6,"tickSize":2,"labelPadding":1,"titlePadding":3,"minExtent":0}},
"y":{"field":"y","type":"quantitative","scale":{"domain":[1,100],"range":[122,22],"nice":false,"zero":false},"axis":{"orient":"left","offset":-173,"values":[1,20,40,60,80,100],"format":"d","title":"Bioluminescence induction factor (BIF)","labelFontSize":5.5,"titleFontSize":5.7,"tickSize":2,"labelPadding":1,"titlePadding":3,"minExtent":0}}}},
{"data":{"name":"ins"},"transform":[{"filter":"datum.p=='A'"}],"mark":{"type":"errorbar","ticks":true,"size":4,"thickness":0.8,"color":"black"},"encoding":{
"x":{"field":"x","type":"quantitative","scale":{"domain":[0.8,2.2],"range":[173,316],"nice":false,"zero":false},"axis":{"orient":"bottom","offset":-114,"values":[0.8,1,1.2,1.4,1.6,1.8,2,2.2],"format":".1f","title":"Zn²⁺ (μM)","labelFontSize":5.5,"titleFontSize":6,"tickSize":2,"labelPadding":1,"titlePadding":3,"minExtent":0}},
"y":{"field":"y","type":"quantitative","scale":{"domain":[1,100],"range":[122,22],"nice":false,"zero":false},"axis":{"orient":"left","offset":-173,"values":[1,20,40,60,80,100],"format":"d","title":"Bioluminescence induction factor (BIF)","labelFontSize":5.5,"titleFontSize":5.7,"tickSize":2,"labelPadding":1,"titlePadding":3,"minExtent":0}},"yError":{"field":"e"}}},
{"data":{"name":"ins"},"transform":[{"filter":"datum.p=='A'"}],"mark":{"type":"point","shape":"circle","size":10},"encoding":{
"x":{"field":"x","type":"quantitative","scale":{"domain":[0.8,2.2],"range":[173,316],"nice":false,"zero":false},"axis":{"orient":"bottom","offset":-114,"values":[0.8,1,1.2,1.4,1.6,1.8,2,2.2],"format":".1f","title":"Zn²⁺ (μM)","labelFontSize":5.5,"titleFontSize":6,"tickSize":2,"labelPadding":1,"titlePadding":3,"minExtent":0}},
"y":{"field":"y","type":"quantitative","scale":{"domain":[1,100],"range":[122,22],"nice":false,"zero":false},"axis":{"orient":"left","offset":-173,"values":[1,20,40,60,80,100],"format":"d","title":"Bioluminescence induction factor (BIF)","labelFontSize":5.5,"titleFontSize":5.7,"tickSize":2,"labelPadding":1,"titlePadding":3,"minExtent":0}}}},
{"data":{"name":"eq"},"transform":[{"filter":"datum.p=='A'"}],"mark":{"type":"text","align":"left","baseline":"top","dx":3,"dy":2,"font":"Liberation Serif","fontSize":10,"fill":"black"},"encoding":{
"x":{"datum":0.8,"type":"quantitative","scale":{"domain":[0.8,2.2],"range":[173,316],"nice":false,"zero":false},"axis":{"orient":"bottom","offset":-114,"values":[0.8,1,1.2,1.4,1.6,1.8,2,2.2],"format":".1f","title":"Zn²⁺ (μM)","labelFontSize":5.5,"titleFontSize":6,"tickSize":2,"labelPadding":1,"titlePadding":3,"minExtent":0}},
"y":{"datum":100,"type":"quantitative","scale":{"domain":[1,100],"range":[122,22],"nice":false,"zero":false},"axis":{"orient":"left","offset":-173,"values":[1,20,40,60,80,100],"format":"d","title":"Bioluminescence induction factor (BIF)","labelFontSize":5.5,"titleFontSize":5.7,"tickSize":2,"labelPadding":1,"titlePadding":3,"minExtent":0}},"text":{"field":"t"}}}
]}
]},
{"title":{"text":"B","offset":-20},"width":328,"height":236,
"resolve":{"scale":{"x":"independent","y":"independent"},"axis":{"x":"independent","y":"independent"}},
"layer":[
{"encoding":{"x":{"field":"x","type":"quantitative","scale":{"domain":[0,24.6],"nice":false,"zero":false},"axis":{"values":[0,2,4,6,8,10,12,14,16,18,20,22,24],"title":"Cd²⁺ (μM)"}},
"y":{"field":"y","type":"quantitative","scale":{"domain":[1,70],"nice":false,"zero":false},"axis":{"values":[1,10,20,30,40,50,60,70],"title":"Bioluminescence induction factor (BIF)","minExtent":21}}},
"layer":[
{"data":{"name":"crv"},"transform":[{"filter":"datum.p=='B'"}],"mark":{"type":"line","interpolate":"monotone","clip":true},"encoding":{"strokeDash":{"field":"s","type":"nominal","scale":{"domain":[1,2,3,4,5,6],"range":[[1,0],[1.5,2],[7,3],[12,4],[9,3,2,3],[9,3,2,3,2,3]]},"legend":null}}},
{"data":{"name":"pts"},"transform":[{"filter":"datum.p=='B'"}],"mark":{"type":"errorbar","ticks":true,"size":7,"thickness":0.8,"color":"black","clip":true},"encoding":{"yError":{"field":"e"}}},
{"data":{"name":"pts"},"transform":[{"filter":"datum.p=='B'"}],"mark":{"type":"point"},"encoding":{"shape":{"field":"s","type":"nominal","scale":{"domain":[1,2,3,4,5,6],"range":["circle","triangle-down","square","triangle-up","diamond","M-1,0L-0.5,-0.866L0.5,-0.866L1,0L0.5,0.866L-0.5,0.866Z"]},"legend":null}}}
]},
{"layer":[
{"data":{"values":[{}]},"mark":{"type":"rect","fill":"white","stroke":"#333","strokeWidth":1},"encoding":{
"x":{"datum":1,"type":"quantitative","scale":{"domain":[1,6],"range":[169,316],"nice":false,"zero":false},"axis":{"orient":"bottom","offset":-111,"values":[1,2,3,4,5,6],"format":"d","title":"Cd²⁺ (μM)","labelFontSize":5.5,"titleFontSize":6,"tickSize":2,"labelPadding":1,"titlePadding":3,"minExtent":0}},"x2":{"datum":6},
"y":{"datum":1,"type":"quantitative","scale":{"domain":[1,70],"range":[125,23],"nice":false,"zero":false},"axis":{"orient":"left","offset":-169,"values":[1,10,20,30,40,50,60,70],"format":"d","title":"Bioluminescence induction factor (BIF)","labelFontSize":5.5,"titleFontSize":5.7,"tickSize":2,"labelPadding":1,"titlePadding":3,"minExtent":0}},"y2":{"datum":70}}},
{"data":{"name":"reg"},"transform":[{"filter":"datum.p=='B'"}],"mark":{"type":"line"},"encoding":{
"x":{"field":"x","type":"quantitative","scale":{"domain":[1,6],"range":[169,316],"nice":false,"zero":false},"axis":{"orient":"bottom","offset":-111,"values":[1,2,3,4,5,6],"format":"d","title":"Cd²⁺ (μM)","labelFontSize":5.5,"titleFontSize":6,"tickSize":2,"labelPadding":1,"titlePadding":3,"minExtent":0}},
"y":{"field":"y","type":"quantitative","scale":{"domain":[1,70],"range":[125,23],"nice":false,"zero":false},"axis":{"orient":"left","offset":-169,"values":[1,10,20,30,40,50,60,70],"format":"d","title":"Bioluminescence induction factor (BIF)","labelFontSize":5.5,"titleFontSize":5.7,"tickSize":2,"labelPadding":1,"titlePadding":3,"minExtent":0}}}},
{"data":{"name":"ins"},"transform":[{"filter":"datum.p=='B'"}],"mark":{"type":"errorbar","ticks":true,"size":4,"thickness":0.8,"color":"black"},"encoding":{
"x":{"field":"x","type":"quantitative","scale":{"domain":[1,6],"range":[169,316],"nice":false,"zero":false},"axis":{"orient":"bottom","offset":-111,"values":[1,2,3,4,5,6],"format":"d","title":"Cd²⁺ (μM)","labelFontSize":5.5,"titleFontSize":6,"tickSize":2,"labelPadding":1,"titlePadding":3,"minExtent":0}},
"y":{"field":"y","type":"quantitative","scale":{"domain":[1,70],"range":[125,23],"nice":false,"zero":false},"axis":{"orient":"left","offset":-169,"values":[1,10,20,30,40,50,60,70],"format":"d","title":"Bioluminescence induction factor (BIF)","labelFontSize":5.5,"titleFontSize":5.7,"tickSize":2,"labelPadding":1,"titlePadding":3,"minExtent":0}},"yError":{"field":"e"}}},
{"data":{"name":"ins"},"transform":[{"filter":"datum.p=='B'"}],"mark":{"type":"point","shape":"circle","size":10},"encoding":{
"x":{"field":"x","type":"quantitative","scale":{"domain":[1,6],"range":[169,316],"nice":false,"zero":false},"axis":{"orient":"bottom","offset":-111,"values":[1,2,3,4,5,6],"format":"d","title":"Cd²⁺ (μM)","labelFontSize":5.5,"titleFontSize":6,"tickSize":2,"labelPadding":1,"titlePadding":3,"minExtent":0}},
"y":{"field":"y","type":"quantitative","scale":{"domain":[1,70],"range":[125,23],"nice":false,"zero":false},"axis":{"orient":"left","offset":-169,"values":[1,10,20,30,40,50,60,70],"format":"d","title":"Bioluminescence induction factor (BIF)","labelFontSize":5.5,"titleFontSize":5.7,"tickSize":2,"labelPadding":1,"titlePadding":3,"minExtent":0}}}},
{"data":{"name":"eq"},"transform":[{"filter":"datum.p=='B'"}],"mark":{"type":"text","align":"left","baseline":"top","dx":3,"dy":2,"font":"Liberation Serif","fontSize":10,"fill":"black"},"encoding":{
"x":{"datum":1,"type":"quantitative","scale":{"domain":[1,6],"range":[169,316],"nice":false,"zero":false},"axis":{"orient":"bottom","offset":-111,"values":[1,2,3,4,5,6],"format":"d","title":"Cd²⁺ (μM)","labelFontSize":5.5,"titleFontSize":6,"tickSize":2,"labelPadding":1,"titlePadding":3,"minExtent":0}},
"y":{"datum":70,"type":"quantitative","scale":{"domain":[1,70],"range":[125,23],"nice":false,"zero":false},"axis":{"orient":"left","offset":-169,"values":[1,10,20,30,40,50,60,70],"format":"d","title":"Bioluminescence induction factor (BIF)","labelFontSize":5.5,"titleFontSize":5.7,"tickSize":2,"labelPadding":1,"titlePadding":3,"minExtent":0}},"text":{"field":"t"}}}
]}
]}
],"spacing":18},
{"hconcat":[
{"title":{"text":"C","offset":1},"width":328,"height":236,
"resolve":{"scale":{"x":"independent","y":"independent"},"axis":{"x":"independent","y":"independent"}},
"layer":[
{"encoding":{"x":{"field":"x","type":"quantitative","scale":{"domain":[0,2],"nice":false,"zero":false},"axis":{"values":[0,0.2,0.4,0.6,0.8,1,1.2,1.4,1.6,1.8],"labelExpr":"datum.value == 0 ? '0' : format(datum.value, '.1f')","title":"Ag⁺ (μM)"}},
"y":{"field":"y","type":"quantitative","scale":{"domain":[1,60],"nice":false,"zero":false},"axis":{"values":[1,10,20,30,40,50,60],"title":"Bioluminescence induction factor (BIF)","minExtent":21}}},
"layer":[
{"data":{"name":"crv"},"transform":[{"filter":"datum.p=='C'"}],"mark":{"type":"line","interpolate":"monotone","clip":true},"encoding":{"strokeDash":{"field":"s","type":"nominal","scale":{"domain":[1,2,3,4,5,6],"range":[[1,0],[1.5,2],[7,3],[12,4],[9,3,2,3],[9,3,2,3,2,3]]},"legend":null}}},
{"data":{"name":"pts"},"transform":[{"filter":"datum.p=='C'"}],"mark":{"type":"errorbar","ticks":true,"size":7,"thickness":0.8,"color":"black","clip":true},"encoding":{"yError":{"field":"e"}}},
{"data":{"name":"pts"},"transform":[{"filter":"datum.p=='C'"}],"mark":{"type":"point"},"encoding":{"shape":{"field":"s","type":"nominal","scale":{"domain":[1,2,3,4,5,6],"range":["circle","triangle-down","square","triangle-up","diamond","M-1,0L-0.5,-0.866L0.5,-0.866L1,0L0.5,0.866L-0.5,0.866Z"]},"legend":null}}}
]},
{"layer":[
{"data":{"values":[{}]},"mark":{"type":"rect","fill":"white","stroke":"#333","strokeWidth":1},"encoding":{
"x":{"datum":0,"type":"quantitative","scale":{"domain":[0,0.35],"range":[165,313],"nice":false,"zero":false},"axis":{"orient":"bottom","offset":-109,"values":[0,0.05,0.1,0.15,0.2,0.25,0.3,0.35],"format":".2f","title":"Ag⁺ (μM)","labelFontSize":5.5,"titleFontSize":6,"tickSize":2,"labelPadding":1,"titlePadding":3,"minExtent":0}},"x2":{"datum":0.35},
"y":{"datum":1,"type":"quantitative","scale":{"domain":[1,70],"range":[127,20],"nice":false,"zero":false},"axis":{"orient":"left","offset":-165,"values":[1,10,20,30,40,50,60,70],"format":"d","title":"Bioluminescence induction factor (BIF)","labelFontSize":5.5,"titleFontSize":5.7,"tickSize":2,"labelPadding":1,"titlePadding":3,"minExtent":0}},"y2":{"datum":70}}},
{"data":{"name":"reg"},"transform":[{"filter":"datum.p=='C'"}],"mark":{"type":"line"},"encoding":{
"x":{"field":"x","type":"quantitative","scale":{"domain":[0,0.35],"range":[165,313],"nice":false,"zero":false},"axis":{"orient":"bottom","offset":-109,"values":[0,0.05,0.1,0.15,0.2,0.25,0.3,0.35],"format":".2f","title":"Ag⁺ (μM)","labelFontSize":5.5,"titleFontSize":6,"tickSize":2,"labelPadding":1,"titlePadding":3,"minExtent":0}},
"y":{"field":"y","type":"quantitative","scale":{"domain":[1,70],"range":[127,20],"nice":false,"zero":false},"axis":{"orient":"left","offset":-165,"values":[1,10,20,30,40,50,60,70],"format":"d","title":"Bioluminescence induction factor (BIF)","labelFontSize":5.5,"titleFontSize":5.7,"tickSize":2,"labelPadding":1,"titlePadding":3,"minExtent":0}}}},
{"data":{"name":"ins"},"transform":[{"filter":"datum.p=='C'"}],"mark":{"type":"errorbar","ticks":true,"size":4,"thickness":0.8,"color":"black"},"encoding":{
"x":{"field":"x","type":"quantitative","scale":{"domain":[0,0.35],"range":[165,313],"nice":false,"zero":false},"axis":{"orient":"bottom","offset":-109,"values":[0,0.05,0.1,0.15,0.2,0.25,0.3,0.35],"format":".2f","title":"Ag⁺ (μM)","labelFontSize":5.5,"titleFontSize":6,"tickSize":2,"labelPadding":1,"titlePadding":3,"minExtent":0}},
"y":{"field":"y","type":"quantitative","scale":{"domain":[1,70],"range":[127,20],"nice":false,"zero":false},"axis":{"orient":"left","offset":-165,"values":[1,10,20,30,40,50,60,70],"format":"d","title":"Bioluminescence induction factor (BIF)","labelFontSize":5.5,"titleFontSize":5.7,"tickSize":2,"labelPadding":1,"titlePadding":3,"minExtent":0}},"yError":{"field":"e"}}},
{"data":{"name":"ins"},"transform":[{"filter":"datum.p=='C'"}],"mark":{"type":"point","shape":"circle","size":10},"encoding":{
"x":{"field":"x","type":"quantitative","scale":{"domain":[0,0.35],"range":[165,313],"nice":false,"zero":false},"axis":{"orient":"bottom","offset":-109,"values":[0,0.05,0.1,0.15,0.2,0.25,0.3,0.35],"format":".2f","title":"Ag⁺ (μM)","labelFontSize":5.5,"titleFontSize":6,"tickSize":2,"labelPadding":1,"titlePadding":3,"minExtent":0}},
"y":{"field":"y","type":"quantitative","scale":{"domain":[1,70],"range":[127,20],"nice":false,"zero":false},"axis":{"orient":"left","offset":-165,"values":[1,10,20,30,40,50,60,70],"format":"d","title":"Bioluminescence induction factor (BIF)","labelFontSize":5.5,"titleFontSize":5.7,"tickSize":2,"labelPadding":1,"titlePadding":3,"minExtent":0}}}},
{"data":{"name":"eq"},"transform":[{"filter":"datum.p=='C'"}],"mark":{"type":"text","align":"left","baseline":"top","dx":3,"dy":2,"font":"Liberation Serif","fontSize":10,"fill":"black"},"encoding":{
"x":{"datum":0,"type":"quantitative","scale":{"domain":[0,0.35],"range":[165,313],"nice":false,"zero":false},"axis":{"orient":"bottom","offset":-109,"values":[0,0.05,0.1,0.15,0.2,0.25,0.3,0.35],"format":".2f","title":"Ag⁺ (μM)","labelFontSize":5.5,"titleFontSize":6,"tickSize":2,"labelPadding":1,"titlePadding":3,"minExtent":0}},
"y":{"datum":70,"type":"quantitative","scale":{"domain":[1,70],"range":[127,20],"nice":false,"zero":false},"axis":{"orient":"left","offset":-165,"values":[1,10,20,30,40,50,60,70],"format":"d","title":"Bioluminescence induction factor (BIF)","labelFontSize":5.5,"titleFontSize":5.7,"tickSize":2,"labelPadding":1,"titlePadding":3,"minExtent":0}},"text":{"field":"t"}}}
]}
]},
{"title":{"text":"D","offset":1},"width":328,"height":236,
"resolve":{"scale":{"x":"independent","y":"independent"},"axis":{"x":"independent","y":"independent"}},
"layer":[
{"encoding":{"x":{"field":"x","type":"quantitative","scale":{"domain":[0,0.18],"nice":false,"zero":false},"axis":{"values":[0,0.02,0.04,0.06,0.08,0.1,0.12,0.14,0.16],"labelExpr":"datum.value == 0 ? '0' : format(datum.value, '.2f')","title":"Cu²⁺(μM)"}},
"y":{"field":"y","type":"quantitative","scale":{"domain":[1,60],"nice":false,"zero":false},"axis":{"values":[1,10,20,30,40,50,60],"title":"Bioluminescence induction factor (BIF)","minExtent":21}}},
"layer":[
{"data":{"name":"crv"},"transform":[{"filter":"datum.p=='D'"}],"mark":{"type":"line","interpolate":"monotone","clip":true},"encoding":{"strokeDash":{"field":"s","type":"nominal","scale":{"domain":[1,2,3,4,5,6],"range":[[1,0],[1.5,2],[7,3],[12,4],[9,3,2,3],[9,3,2,3,2,3]]},"legend":null}}},
{"data":{"name":"pts"},"transform":[{"filter":"datum.p=='D'"}],"mark":{"type":"errorbar","ticks":true,"size":7,"thickness":0.8,"color":"black","clip":true},"encoding":{"yError":{"field":"e"}}},
{"data":{"name":"pts"},"transform":[{"filter":"datum.p=='D'"}],"mark":{"type":"point"},"encoding":{"shape":{"field":"s","type":"nominal","scale":{"domain":[1,2,3,4,5,6],"range":["circle","triangle-down","square","triangle-up","diamond","M-1,0L-0.5,-0.866L0.5,-0.866L1,0L0.5,0.866L-0.5,0.866Z"]},"legend":null}}}
]},
{"layer":[
{"data":{"values":[{}]},"mark":{"type":"rect","fill":"white","stroke":"#333","strokeWidth":1},"encoding":{
"x":{"datum":0.025,"type":"quantitative","scale":{"domain":[0.025,0.05],"range":[169,319],"nice":false,"zero":false},"axis":{"orient":"bottom","offset":-109,"values":[0.025,0.03,0.035,0.04,0.045,0.05],"format":".3f","title":"Cu²⁺ (μM)","labelFontSize":5.5,"titleFontSize":6,"tickSize":2,"labelPadding":1,"titlePadding":3,"minExtent":0}},"x2":{"datum":0.05},
"y":{"datum":1,"type":"quantitative","scale":{"domain":[1,50],"range":[127,19],"nice":false,"zero":false},"axis":{"orient":"left","offset":-169,"values":[1,10,20,30,40,50],"format":"d","title":"Bioluminescence induction factor (BIF)","labelFontSize":5.5,"titleFontSize":5.7,"tickSize":2,"labelPadding":1,"titlePadding":3,"minExtent":0}},"y2":{"datum":50}}},
{"data":{"name":"reg"},"transform":[{"filter":"datum.p=='D'"}],"mark":{"type":"line"},"encoding":{
"x":{"field":"x","type":"quantitative","scale":{"domain":[0.025,0.05],"range":[169,319],"nice":false,"zero":false},"axis":{"orient":"bottom","offset":-109,"values":[0.025,0.03,0.035,0.04,0.045,0.05],"format":".3f","title":"Cu²⁺ (μM)","labelFontSize":5.5,"titleFontSize":6,"tickSize":2,"labelPadding":1,"titlePadding":3,"minExtent":0}},
"y":{"field":"y","type":"quantitative","scale":{"domain":[1,50],"range":[127,19],"nice":false,"zero":false},"axis":{"orient":"left","offset":-169,"values":[1,10,20,30,40,50],"format":"d","title":"Bioluminescence induction factor (BIF)","labelFontSize":5.5,"titleFontSize":5.7,"tickSize":2,"labelPadding":1,"titlePadding":3,"minExtent":0}}}},
{"data":{"name":"ins"},"transform":[{"filter":"datum.p=='D'"}],"mark":{"type":"errorbar","ticks":true,"size":4,"thickness":0.8,"color":"black"},"encoding":{
"x":{"field":"x","type":"quantitative","scale":{"domain":[0.025,0.05],"range":[169,319],"nice":false,"zero":false},"axis":{"orient":"bottom","offset":-109,"values":[0.025,0.03,0.035,0.04,0.045,0.05],"format":".3f","title":"Cu²⁺ (μM)","labelFontSize":5.5,"titleFontSize":6,"tickSize":2,"labelPadding":1,"titlePadding":3,"minExtent":0}},
"y":{"field":"y","type":"quantitative","scale":{"domain":[1,50],"range":[127,19],"nice":false,"zero":false},"axis":{"orient":"left","offset":-169,"values":[1,10,20,30,40,50],"format":"d","title":"Bioluminescence induction factor (BIF)","labelFontSize":5.5,"titleFontSize":5.7,"tickSize":2,"labelPadding":1,"titlePadding":3,"minExtent":0}},"yError":{"field":"e"}}},
{"data":{"name":"ins"},"transform":[{"filter":"datum.p=='D'"}],"mark":{"type":"point","shape":"circle","size":10},"encoding":{
"x":{"field":"x","type":"quantitative","scale":{"domain":[0.025,0.05],"range":[169,319],"nice":false,"zero":false},"axis":{"orient":"bottom","offset":-109,"values":[0.025,0.03,0.035,0.04,0.045,0.05],"format":".3f","title":"Cu²⁺ (μM)","labelFontSize":5.5,"titleFontSize":6,"tickSize":2,"labelPadding":1,"titlePadding":3,"minExtent":0}},
"y":{"field":"y","type":"quantitative","scale":{"domain":[1,50],"range":[127,19],"nice":false,"zero":false},"axis":{"orient":"left","offset":-169,"values":[1,10,20,30,40,50],"format":"d","title":"Bioluminescence induction factor (BIF)","labelFontSize":5.5,"titleFontSize":5.7,"tickSize":2,"labelPadding":1,"titlePadding":3,"minExtent":0}}}},
{"data":{"name":"eq"},"transform":[{"filter":"datum.p=='D'"}],"mark":{"type":"text","align":"left","baseline":"top","dx":3,"dy":2,"font":"Liberation Serif","fontSize":10,"fill":"black"},"encoding":{
"x":{"datum":0.025,"type":"quantitative","scale":{"domain":[0.025,0.05],"range":[169,319],"nice":false,"zero":false},"axis":{"orient":"bottom","offset":-109,"values":[0.025,0.03,0.035,0.04,0.045,0.05],"format":".3f","title":"Cu²⁺ (μM)","labelFontSize":5.5,"titleFontSize":6,"tickSize":2,"labelPadding":1,"titlePadding":3,"minExtent":0}},
"y":{"datum":50,"type":"quantitative","scale":{"domain":[1,50],"range":[127,19],"nice":false,"zero":false},"axis":{"orient":"left","offset":-169,"values":[1,10,20,30,40,50],"format":"d","title":"Bioluminescence induction factor (BIF)","labelFontSize":5.5,"titleFontSize":5.7,"tickSize":2,"labelPadding":1,"titlePadding":3,"minExtent":0}},"text":{"field":"t"}}}
]}
]}
],"spacing":18},
{"hconcat":[
{"title":{"text":"E","offset":14},"width":328,"height":236,
"resolve":{"scale":{"x":"independent","y":"independent"},"axis":{"x":"independent","y":"independent"}},
"layer":[
{"encoding":{"x":{"field":"x","type":"quantitative","scale":{"domain":[0,400],"nice":false,"zero":false},"axis":{"values":[0,50,100,150,200,250,300,350,400],"title":"Hg²⁺ (pM)"}},
"y":{"field":"y","type":"quantitative","scale":{"domain":[1,40],"nice":false,"zero":false},"axis":{"values":[1,5,10,15,20,25,30,35,40],"title":"Bioluminescence induction factor (BIF)","minExtent":21}}},
"layer":[
{"data":{"name":"crv"},"transform":[{"filter":"datum.p=='E'"}],"mark":{"type":"line","interpolate":"monotone","clip":true},"encoding":{"strokeDash":{"field":"s","type":"nominal","scale":{"domain":[1,2,3,4,5,6],"range":[[1,0],[1.5,2],[7,3],[12,4],[9,3,2,3],[9,3,2,3,2,3]]},"legend":null}}},
{"data":{"name":"pts"},"transform":[{"filter":"datum.p=='E'"}],"mark":{"type":"errorbar","ticks":true,"size":7,"thickness":0.8,"color":"black","clip":true},"encoding":{"yError":{"field":"e"}}},
{"data":{"name":"pts"},"transform":[{"filter":"datum.p=='E'"}],"mark":{"type":"point"},"encoding":{"shape":{"field":"s","type":"nominal","scale":{"domain":[1,2,3,4,5,6],"range":["circle","triangle-down","square","triangle-up","diamond","M-1,0L-0.5,-0.866L0.5,-0.866L1,0L0.5,0.866L-0.5,0.866Z"]},"legend":null}}}
]},
{"layer":[
{"data":{"values":[{}]},"mark":{"type":"rect","fill":"white","stroke":"#333","strokeWidth":1},"encoding":{
"x":{"datum":0,"type":"quantitative","scale":{"domain":[0,80],"range":[168,325],"nice":false,"zero":false},"axis":{"orient":"bottom","offset":-112,"values":[0,10,20,30,40,50,60,70,80],"format":"d","title":"Hg²⁺ (pM)","labelFontSize":5.5,"titleFontSize":6,"tickSize":2,"labelPadding":1,"titlePadding":3,"minExtent":0}},"x2":{"datum":80},
"y":{"datum":1,"type":"quantitative","scale":{"domain":[1,40],"range":[124,16],"nice":false,"zero":false},"axis":{"orient":"left","offset":-168,"values":[1,5,10,15,20,25,30,35,40],"format":"d","title":"Bioluminescence induction factor (BIF)","labelFontSize":5.5,"titleFontSize":5.7,"tickSize":2,"labelPadding":1,"titlePadding":3,"minExtent":0}},"y2":{"datum":40}}},
{"data":{"name":"reg"},"transform":[{"filter":"datum.p=='E'"}],"mark":{"type":"line"},"encoding":{
"x":{"field":"x","type":"quantitative","scale":{"domain":[0,80],"range":[168,325],"nice":false,"zero":false},"axis":{"orient":"bottom","offset":-112,"values":[0,10,20,30,40,50,60,70,80],"format":"d","title":"Hg²⁺ (pM)","labelFontSize":5.5,"titleFontSize":6,"tickSize":2,"labelPadding":1,"titlePadding":3,"minExtent":0}},
"y":{"field":"y","type":"quantitative","scale":{"domain":[1,40],"range":[124,16],"nice":false,"zero":false},"axis":{"orient":"left","offset":-168,"values":[1,5,10,15,20,25,30,35,40],"format":"d","title":"Bioluminescence induction factor (BIF)","labelFontSize":5.5,"titleFontSize":5.7,"tickSize":2,"labelPadding":1,"titlePadding":3,"minExtent":0}}}},
{"data":{"name":"ins"},"transform":[{"filter":"datum.p=='E'"}],"mark":{"type":"errorbar","ticks":true,"size":4,"thickness":0.8,"color":"black"},"encoding":{
"x":{"field":"x","type":"quantitative","scale":{"domain":[0,80],"range":[168,325],"nice":false,"zero":false},"axis":{"orient":"bottom","offset":-112,"values":[0,10,20,30,40,50,60,70,80],"format":"d","title":"Hg²⁺ (pM)","labelFontSize":5.5,"titleFontSize":6,"tickSize":2,"labelPadding":1,"titlePadding":3,"minExtent":0}},
"y":{"field":"y","type":"quantitative","scale":{"domain":[1,40],"range":[124,16],"nice":false,"zero":false},"axis":{"orient":"left","offset":-168,"values":[1,5,10,15,20,25,30,35,40],"format":"d","title":"Bioluminescence induction factor (BIF)","labelFontSize":5.5,"titleFontSize":5.7,"tickSize":2,"labelPadding":1,"titlePadding":3,"minExtent":0}},"yError":{"field":"e"}}},
{"data":{"name":"ins"},"transform":[{"filter":"datum.p=='E'"}],"mark":{"type":"point","shape":"circle","size":10},"encoding":{
"x":{"field":"x","type":"quantitative","scale":{"domain":[0,80],"range":[168,325],"nice":false,"zero":false},"axis":{"orient":"bottom","offset":-112,"values":[0,10,20,30,40,50,60,70,80],"format":"d","title":"Hg²⁺ (pM)","labelFontSize":5.5,"titleFontSize":6,"tickSize":2,"labelPadding":1,"titlePadding":3,"minExtent":0}},
"y":{"field":"y","type":"quantitative","scale":{"domain":[1,40],"range":[124,16],"nice":false,"zero":false},"axis":{"orient":"left","offset":-168,"values":[1,5,10,15,20,25,30,35,40],"format":"d","title":"Bioluminescence induction factor (BIF)","labelFontSize":5.5,"titleFontSize":5.7,"tickSize":2,"labelPadding":1,"titlePadding":3,"minExtent":0}}}},
{"data":{"name":"eq"},"transform":[{"filter":"datum.p=='E'"}],"mark":{"type":"text","align":"left","baseline":"top","dx":3,"dy":2,"font":"Liberation Serif","fontSize":10,"fill":"black"},"encoding":{
"x":{"datum":0,"type":"quantitative","scale":{"domain":[0,80],"range":[168,325],"nice":false,"zero":false},"axis":{"orient":"bottom","offset":-112,"values":[0,10,20,30,40,50,60,70,80],"format":"d","title":"Hg²⁺ (pM)","labelFontSize":5.5,"titleFontSize":6,"tickSize":2,"labelPadding":1,"titlePadding":3,"minExtent":0}},
"y":{"datum":40,"type":"quantitative","scale":{"domain":[1,40],"range":[124,16],"nice":false,"zero":false},"axis":{"orient":"left","offset":-168,"values":[1,5,10,15,20,25,30,35,40],"format":"d","title":"Bioluminescence induction factor (BIF)","labelFontSize":5.5,"titleFontSize":5.7,"tickSize":2,"labelPadding":1,"titlePadding":3,"minExtent":0}},"text":{"field":"t"}}}
]}
]},
{"title":{"text":"F","offset":14},"width":328,"height":236,
"resolve":{"scale":{"x":"independent","y":"independent"},"axis":{"x":"independent","y":"independent"}},
"layer":[
{"encoding":{"x":{"field":"x","type":"quantitative","scale":{"domain":[0,11],"nice":false,"zero":false},"axis":{"values":[0,1,2,3,4,5,6,7,8,9,10,11],"title":"Co²⁺ (μM)"}},
"y":{"field":"y","type":"quantitative","scale":{"domain":[1,30],"nice":false,"zero":false},"axis":{"values":[1,5,10,15,20,25,30],"title":"Bioluminescence induction factor (BIF)","minExtent":21}}},
"layer":[
{"data":{"name":"crv"},"transform":[{"filter":"datum.p=='F'"}],"mark":{"type":"line","interpolate":"monotone","clip":true},"encoding":{"strokeDash":{"field":"s","type":"nominal","scale":{"domain":[1,2,3,4,5,6],"range":[[1,0],[1.5,2],[7,3],[12,4],[9,3,2,3],[9,3,2,3,2,3]]},"legend":null}}},
{"data":{"name":"pts"},"transform":[{"filter":"datum.p=='F'"}],"mark":{"type":"errorbar","ticks":true,"size":7,"thickness":0.8,"color":"black","clip":true},"encoding":{"yError":{"field":"e"}}},
{"data":{"name":"pts"},"transform":[{"filter":"datum.p=='F'"}],"mark":{"type":"point"},"encoding":{"shape":{"field":"s","type":"nominal","scale":{"domain":[1,2,3,4,5,6],"range":["circle","triangle-down","square","triangle-up","diamond","M-1,0L-0.5,-0.866L0.5,-0.866L1,0L0.5,0.866L-0.5,0.866Z"]},"legend":null}}}
]},
{"layer":[
{"data":{"values":[{}]},"mark":{"type":"rect","fill":"white","stroke":"#333","strokeWidth":1},"encoding":{
"x":{"datum":0,"type":"quantitative","scale":{"domain":[0,3],"range":[166,315],"nice":false,"zero":false},"axis":{"orient":"bottom","offset":-116,"values":[0,0.5,1,1.5,2,2.5,3],"format":".1f","title":"Co²⁺ (μM)","labelFontSize":5.5,"titleFontSize":6,"tickSize":2,"labelPadding":1,"titlePadding":3,"minExtent":0}},"x2":{"datum":3},
"y":{"datum":1,"type":"quantitative","scale":{"domain":[1,25],"range":[120,18],"nice":false,"zero":false},"axis":{"orient":"left","offset":-166,"values":[5,10,15,20,25],"format":"d","title":"Bioluminescence induction factor (BIF)","labelFontSize":5.5,"titleFontSize":5.7,"tickSize":2,"labelPadding":1,"titlePadding":3,"minExtent":0}},"y2":{"datum":25}}},
{"data":{"name":"reg"},"transform":[{"filter":"datum.p=='F'"}],"mark":{"type":"line"},"encoding":{
"x":{"field":"x","type":"quantitative","scale":{"domain":[0,3],"range":[166,315],"nice":false,"zero":false},"axis":{"orient":"bottom","offset":-116,"values":[0,0.5,1,1.5,2,2.5,3],"format":".1f","title":"Co²⁺ (μM)","labelFontSize":5.5,"titleFontSize":6,"tickSize":2,"labelPadding":1,"titlePadding":3,"minExtent":0}},
"y":{"field":"y","type":"quantitative","scale":{"domain":[1,25],"range":[120,18],"nice":false,"zero":false},"axis":{"orient":"left","offset":-166,"values":[5,10,15,20,25],"format":"d","title":"Bioluminescence induction factor (BIF)","labelFontSize":5.5,"titleFontSize":5.7,"tickSize":2,"labelPadding":1,"titlePadding":3,"minExtent":0}}}},
{"data":{"name":"ins"},"transform":[{"filter":"datum.p=='F'"}],"mark":{"type":"errorbar","ticks":true,"size":4,"thickness":0.8,"color":"black"},"encoding":{
"x":{"field":"x","type":"quantitative","scale":{"domain":[0,3],"range":[166,315],"nice":false,"zero":false},"axis":{"orient":"bottom","offset":-116,"values":[0,0.5,1,1.5,2,2.5,3],"format":".1f","title":"Co²⁺ (μM)","labelFontSize":5.5,"titleFontSize":6,"tickSize":2,"labelPadding":1,"titlePadding":3,"minExtent":0}},
"y":{"field":"y","type":"quantitative","scale":{"domain":[1,25],"range":[120,18],"nice":false,"zero":false},"axis":{"orient":"left","offset":-166,"values":[5,10,15,20,25],"format":"d","title":"Bioluminescence induction factor (BIF)","labelFontSize":5.5,"titleFontSize":5.7,"tickSize":2,"labelPadding":1,"titlePadding":3,"minExtent":0}},"yError":{"field":"e"}}},
{"data":{"name":"ins"},"transform":[{"filter":"datum.p=='F'"}],"mark":{"type":"point","shape":"circle","size":10},"encoding":{
"x":{"field":"x","type":"quantitative","scale":{"domain":[0,3],"range":[166,315],"nice":false,"zero":false},"axis":{"orient":"bottom","offset":-116,"values":[0,0.5,1,1.5,2,2.5,3],"format":".1f","title":"Co²⁺ (μM)","labelFontSize":5.5,"titleFontSize":6,"tickSize":2,"labelPadding":1,"titlePadding":3,"minExtent":0}},
"y":{"field":"y","type":"quantitative","scale":{"domain":[1,25],"range":[120,18],"nice":false,"zero":false},"axis":{"orient":"left","offset":-166,"values":[5,10,15,20,25],"format":"d","title":"Bioluminescence induction factor (BIF)","labelFontSize":5.5,"titleFontSize":5.7,"tickSize":2,"labelPadding":1,"titlePadding":3,"minExtent":0}}}},
{"data":{"name":"eq"},"transform":[{"filter":"datum.p=='F'"}],"mark":{"type":"text","align":"left","baseline":"top","dx":3,"dy":2,"font":"Liberation Serif","fontSize":10,"fill":"black"},"encoding":{
"x":{"datum":0,"type":"quantitative","scale":{"domain":[0,3],"range":[166,315],"nice":false,"zero":false},"axis":{"orient":"bottom","offset":-116,"values":[0,0.5,1,1.5,2,2.5,3],"format":".1f","title":"Co²⁺ (μM)","labelFontSize":5.5,"titleFontSize":6,"tickSize":2,"labelPadding":1,"titlePadding":3,"minExtent":0}},
"y":{"datum":25,"type":"quantitative","scale":{"domain":[1,25],"range":[120,18],"nice":false,"zero":false},"axis":{"orient":"left","offset":-166,"values":[5,10,15,20,25],"format":"d","title":"Bioluminescence induction factor (BIF)","labelFontSize":5.5,"titleFontSize":5.7,"tickSize":2,"labelPadding":1,"titlePadding":3,"minExtent":0}},"text":{"field":"t"}}}
]}
]}
],"spacing":10}
],
"spacing":4,
"config":{
"view":{"stroke":"#333","strokeWidth":1},
"axis":{"grid":false,"labelFont":"Liberation Sans","titleFont":"Liberation Sans","labelFontSize":9.5,"titleFontSize":11,"titleFontWeight":"normal","labelColor":"#111","titleColor":"#111","domainColor":"#333","tickColor":"#333","tickSize":4,"labelPadding":2,"labelFlush":false,"labelOverlap":false},
"axisX":{"titlePadding":10},
"axisY":{"titlePadding":7},
"title":{"font":"Liberation Sans","fontSize":17,"fontWeight":"bold","anchor":"start","frame":"bounds","color":"black"},
"line":{"color":"black","strokeWidth":1},
"point":{"color":"black","filled":true,"size":36,"opacity":1,"strokeWidth":0.5}
}
}
